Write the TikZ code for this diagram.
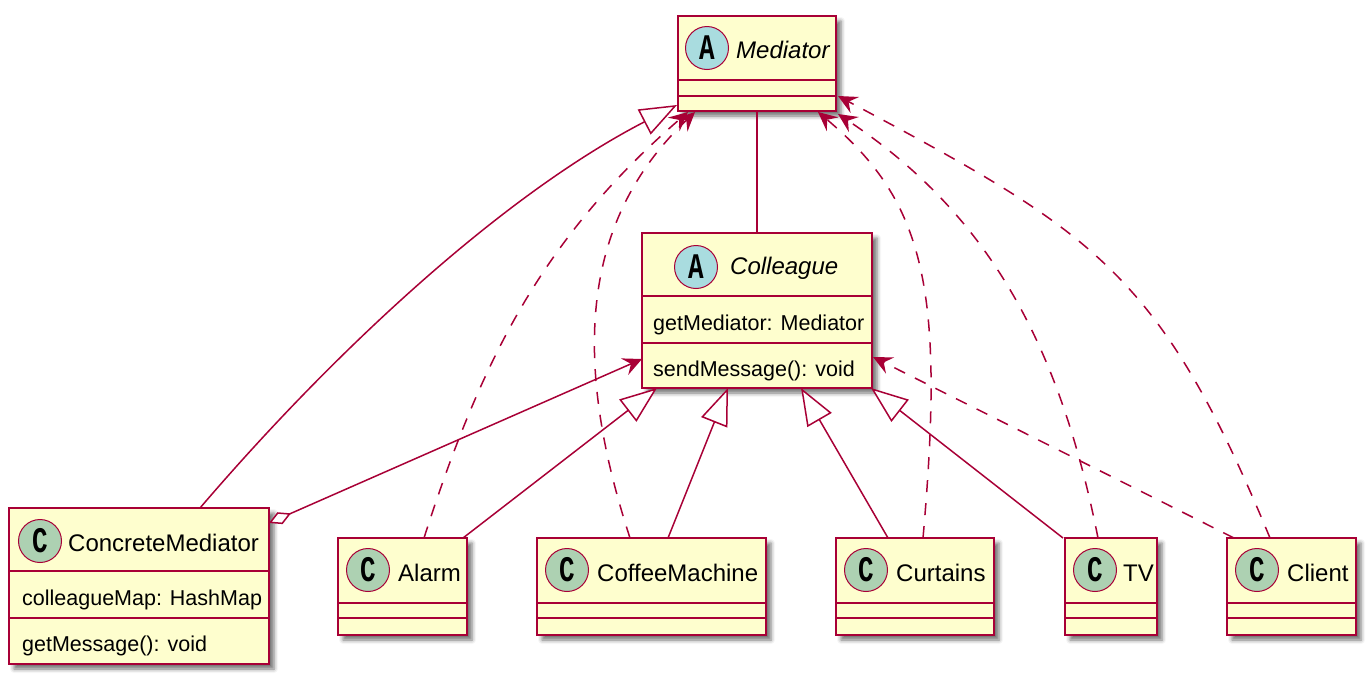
\documentclass[tikz,border=0pt]{standalone}
\usepackage{fontspec}
\usepackage{graphicx}
\setmainfont{Liberation Sans}
\newfontfamily\circfont{Liberation Mono}
\usetikzlibrary{arrows.meta,calc,shadows.blur}
\definecolor{umlfill}{HTML}{FEFECE}
\definecolor{umlline}{HTML}{A80036}
\definecolor{abscirc}{HTML}{A9DCDF}
\definecolor{clscirc}{HTML}{ADD1B2}
\tikzset{
  classbox/.style={draw=umlline, fill=umlfill, line width=2.5pt, inner sep=0pt, outer sep=0pt,
    anchor=north west, blur shadow={shadow xshift=5pt, shadow yshift=-5pt, shadow blur radius=4pt, shadow opacity=55}},
  sepline/.style={draw=umlline, line width=2.5pt},
  letterc/.style={circle, draw=umlline, line width=1pt, minimum size=43pt, inner sep=0pt,
    font=\circfont\bfseries\fontsize{36pt}{36pt}\selectfont},
  absc/.style={letterc, fill=abscirc},
  clsc/.style={letterc, fill=clscirc},
  cname/.style={anchor=base west, inner sep=0pt, font=\fontsize{24pt}{29pt}\selectfont},
  aname/.style={cname, font=\fontsize{24pt}{29pt}\selectfont\itshape},
  member/.style={anchor=base west, inner sep=0pt, font=\fontsize{21.5pt}{26pt}\selectfont},
  conn/.style={draw=umlline, line width=1.5pt},
  gen/.style={conn, -{Triangle[length=37pt,width=28pt,fill=white]}},
  dep/.style={conn, dash pattern=on 12pt off 11pt, -{Stealth[length=19pt,width=18pt,inset=7pt]}},
  agg/.style={conn, {Diamond[length=24pt,width=13pt,fill=white]}-{Stealth[length=19pt,width=18pt,inset=7pt]}},
}
\begin{document}
\begin{tikzpicture}[x=1pt,y=-1pt]
\useasboundingbox (0,0) rectangle (1370,678);

% ---- Mediator
\node[classbox, minimum width=158pt, minimum height=95pt] (mediator) at (678,16) {};
\draw[sepline] ($(mediator.north west)+(0,64)$) -- ($(mediator.north east)+(0,64)$);
\draw[sepline] ($(mediator.north west)+(0,80)$) -- ($(mediator.north east)+(0,80)$);
\node[absc] (mediatorc) at (707,48) {\scalebox{0.72}[1]{A}};
\node[aname] (mediatorn) at (736,58) {Mediator};

% ---- Colleague
\node[classbox, minimum width=230pt, minimum height=155pt] (colleague) at (642,233) {};
\draw[sepline] ($(colleague.north west)+(0,63)$) -- ($(colleague.north east)+(0,63)$);
\draw[sepline] ($(colleague.north west)+(0,110)$) -- ($(colleague.north east)+(0,110)$);
\node[absc] (colleaguec) at (696,267) {\scalebox{0.72}[1]{A}};
\node[aname] (colleaguen) at (730,274) {Colleague};
\node[member] (colleaguea) at (653,330) {getMediator: Mediator};
\node[member] (colleaguem) at (653,376) {sendMessage(): void};

% ---- ConcreteMediator
\node[classbox, minimum width=260pt, minimum height=156pt] (cm) at (9,508) {};
\draw[sepline] ($(cm.north west)+(0,63)$) -- ($(cm.north east)+(0,63)$);
\draw[sepline] ($(cm.north west)+(0,110)$) -- ($(cm.north east)+(0,110)$);
\node[clsc] (cmc) at (40,541) {\scalebox{0.72}[1]{C}};
\node[cname] (cmn) at (68,551) {ConcreteMediator};
\node[member] (cma) at (22,605) {colleagueMap: HashMap};
\node[member] (cmm) at (22,651) {getMessage(): void};

% ---- Alarm
\node[classbox, minimum width=129pt, minimum height=97pt] (alarm) at (338,538) {};
\draw[sepline] ($(alarm.north west)+(0,65)$) -- ($(alarm.north east)+(0,65)$);
\draw[sepline] ($(alarm.north west)+(0,80)$) -- ($(alarm.north east)+(0,80)$);
\node[clsc] (alarmc) at (368,570) {\scalebox{0.72}[1]{C}};
\node[cname] (alarmn) at (398,581) {Alarm};

% ---- CoffeeMachine
\node[classbox, minimum width=229pt, minimum height=97pt] (coffee) at (537,538) {};
\draw[sepline] ($(coffee.north west)+(0,65)$) -- ($(coffee.north east)+(0,65)$);
\draw[sepline] ($(coffee.north west)+(0,80)$) -- ($(coffee.north east)+(0,80)$);
\node[clsc] (coffeec) at (567,570) {\scalebox{0.72}[1]{C}};
\node[cname] (coffeen) at (597,581) {CoffeeMachine};

% ---- Curtains
\node[classbox, minimum width=158pt, minimum height=97pt] (curtains) at (836,538) {};
\draw[sepline] ($(curtains.north west)+(0,65)$) -- ($(curtains.north east)+(0,65)$);
\draw[sepline] ($(curtains.north west)+(0,80)$) -- ($(curtains.north east)+(0,80)$);
\node[clsc] (curtainsc) at (866,570) {\scalebox{0.72}[1]{C}};
\node[cname] (curtainsn) at (896,581) {Curtains};

% ---- TV
\node[classbox, minimum width=92pt, minimum height=97pt] (tv) at (1065,538) {};
\draw[sepline] ($(tv.north west)+(0,65)$) -- ($(tv.north east)+(0,65)$);
\draw[sepline] ($(tv.north west)+(0,80)$) -- ($(tv.north east)+(0,80)$);
\node[clsc] (tvc) at (1095,570) {\scalebox{0.72}[1]{C}};
\node[cname] (tvn) at (1123,581) {TV};

% ---- Client
\node[classbox, minimum width=129pt, minimum height=97pt] (client) at (1227,538) {};
\draw[sepline] ($(client.north west)+(0,65)$) -- ($(client.north east)+(0,65)$);
\draw[sepline] ($(client.north west)+(0,80)$) -- ($(client.north east)+(0,80)$);
\node[clsc] (clientc) at (1257,570) {\scalebox{0.72}[1]{C}};
\node[cname] (clientn) at (1287,581) {Client};

% ---- connectors
\draw[conn] (mediator.south) -- (colleague.north);
\draw[gen] ($(cm.north west)+(191,0)$) .. controls (330,356) and (499,197) .. ($(mediator.south west)+(-1,-6)$);
\draw[agg] ($(cm.north east)+(0,15)$) -- ($(colleague.south west)+(0,-29)$);

\draw[gen] ($(alarm.north west)+(125,0)$) -- ($(colleague.south west)+(15,0)$);
\draw[gen] ($(coffee.north west)+(131,0)$) -- ($(colleague.south west)+(86,0)$);
\draw[gen] ($(curtains.north west)+(52,0)$) -- ($(colleague.south west)+(159,0)$);
\draw[gen] ($(tv.north west)+(-2,0)$) -- ($(colleague.south east)+(-1,0)$);

\draw[dep] ($(alarm.north west)+(86,0)$) .. controls (482,357) and (544,237) .. ($(mediator.south west)+(10,1)$);
\draw[dep] ($(coffee.north west)+(93,0)$) .. controls (568,348) and (587,215) .. ($(mediator.south west)+(17,1)$);
\draw[dep] ($(curtains.north west)+(87,0)$) .. controls (945,289) and (925,202) .. ($(mediator.south west)+(140,1)$);
\draw[dep] ($(tv.north west)+(33,0)$) .. controls (1059,342) and (987,213) .. ($(mediator.south east)+(2,3)$);
\draw[dep] ($(client.north west)+(43,0)$) .. controls (1159,270) and (1093,232) .. ($(mediator.south east)+(2,-15)$);
\draw[dep] ($(client.north west)+(7,0)$) -- ($(colleague.south east)+(1,-31)$);
\end{tikzpicture}
\end{document}
